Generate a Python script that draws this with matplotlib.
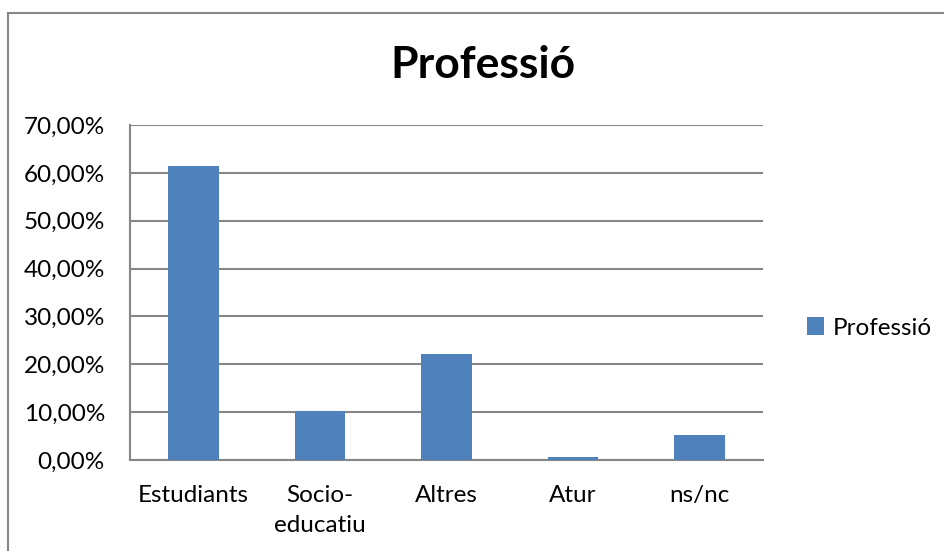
import matplotlib.pyplot as plt
from matplotlib.patches import Rectangle
from matplotlib.ticker import FuncFormatter

categories = ['Estudiants', 'Socio-\neducatiu', 'Altres', 'Atur', 'ns/nc']
values = [61.4, 10.3, 22.2, 0.7, 5.3]
series_name = 'Professió'

plt.rcParams['font.family'] = ['Lato', 'DejaVu Sans']

fig = plt.figure(figsize=(9.44, 5.51), dpi=100)
ax = fig.add_axes([130 / 944, 91 / 551, 633 / 944, 335 / 551])

grid_col = '#868686'
bars = ax.bar(range(len(categories)), values, width=0.4, color='#4F81BD', label=series_name, zorder=3)

ax.set_xlim(-0.5, len(categories) - 0.5)
ax.set_ylim(0, 70)
ax.set_yticks(range(0, 71, 10))
ax.yaxis.set_major_formatter(FuncFormatter(lambda v, p: f'{v:.2f}%'.replace('.', ',')))
ax.set_xticks(range(len(categories)))
ax.set_xticklabels(categories, linespacing=1.5)
ax.tick_params(axis='both', length=0, labelsize=17.5, colors='black')
ax.tick_params(axis='y', pad=18)
ax.tick_params(axis='x', pad=18)

ax.grid(axis='y', color=grid_col, linewidth=1.5, zorder=0)
for s in ['top', 'right']:
    ax.spines[s].set_visible(False)
for s in ['left', 'bottom']:
    ax.spines[s].set_color(grid_col)
    ax.spines[s].set_linewidth(1.5)

fig.text(483 / 944, 1 - 65 / 551, 'Professió', ha='center', va='center',
         fontsize=32, fontweight='bold')

ax.legend(loc='center left', bbox_to_anchor=(785 / 944, 1 - 328 / 551),
          bbox_transform=fig.transFigure, frameon=False, fontsize=17.5,
          handlelength=0.7, handleheight=0.7, handletextpad=0.35)

# chart border
fig.patches.append(Rectangle((7.5 / 944, -0.1), 1.2, 1.1 - 13 / 551,
                             transform=fig.transFigure, fill=False,
                             edgecolor=grid_col, linewidth=1.5))

fig.savefig('out.png', dpi=100)
